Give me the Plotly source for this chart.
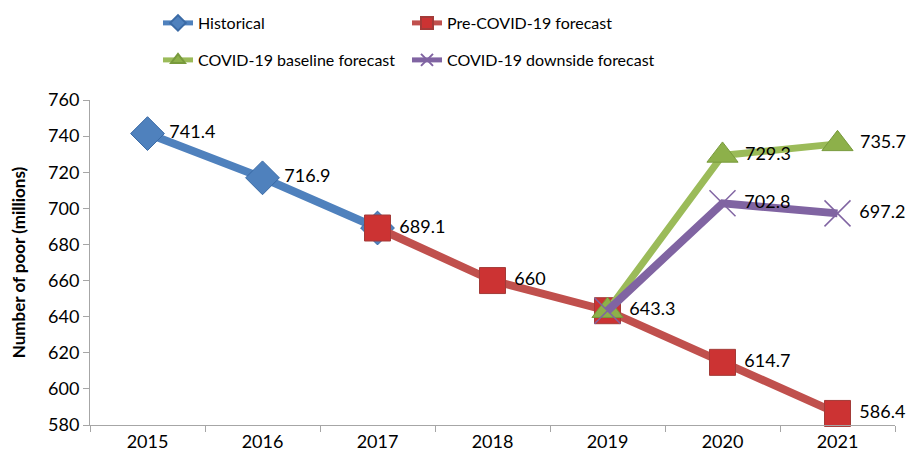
import plotly.graph_objects as go

years = ["2015", "2016", "2017", "2018", "2019", "2020", "2021"]
historical = [741.4, 716.9, 689.1, None, None, None, None]
pre_covid = [None, None, 689.1, 660, 643.3, 614.7, 586.4]
baseline = [None, None, None, None, 643.3, 729.3, 735.7]
downside = [None, None, None, None, 643.3, 702.8, 697.2]

hist_labels = ["741.4", "716.9", "", "", "", "", ""]
pre_labels = ["", "", "689.1", "660", "643.3", "614.7", "586.4"]
base_labels = ["", "", "", "", "", "729.3", "735.7"]
down_labels = ["", "", "", "", "", "702.8", "697.2"]

FONT = "Lato"
lab_font = dict(family=FONT, size=18, color="#000000")

# page body has an 8px margin; figure offset accordingly
W, H = 901, 445


def pad(labels):
    return [" " + t if t else "" for t in labels]


fig = go.Figure()
fig.add_trace(go.Scatter(
    x=years, y=historical, name="Historical", mode="lines+markers+text",
    text=pad(hist_labels), textposition="middle right", textfont=lab_font,
    line=dict(color="#4F81BD", width=8), cliponaxis=False,
    marker=dict(symbol="diamond", size=26, color="#4F81BD", line=dict(color="#3A6AA5", width=1)),
    legend="legend"))
fig.add_trace(go.Scatter(
    x=years, y=pre_covid, name="Pre-COVID-19 forecast", mode="lines+markers+text",
    text=pad(pre_labels), textposition="middle right", textfont=lab_font,
    line=dict(color="#C0504D", width=8), cliponaxis=False,
    marker=dict(symbol="square", size=26, color="#CC3333", line=dict(color="#A33B38", width=1)),
    legend="legend"))
fig.add_trace(go.Scatter(
    x=years, y=baseline, name="COVID-19 baseline forecast", mode="lines+markers+text",
    text=pad(base_labels), textposition="middle right", textfont=lab_font,
    line=dict(color="#9BBB59", width=7), cliponaxis=False,
    marker=dict(symbol="triangle-up", size=27, color="#8DB04A", line=dict(color="#789A3C", width=1)),
    legend="legend2"))
fig.add_trace(go.Scatter(
    x=years, y=downside, name="COVID-19 downside forecast", mode="lines+markers+text",
    text=pad(down_labels), textposition="middle right", textfont=lab_font,
    line=dict(color="#8064A2", width=8), cliponaxis=False,
    marker=dict(symbol="x-thin", size=26, color="#8064A2", line=dict(color="#8064A2", width=1.5)),
    legend="legend2"))

leg_common = dict(orientation="h", xanchor="left", yanchor="middle",
                  xref="container", yref="container",
                  font=dict(family=FONT, size=16, color="#000000"),
                  entrywidth=204, entrywidthmode="pixels",
                  itemsizing="constant", bgcolor="rgba(0,0,0,0)")

fig.update_layout(
    width=W, height=H,
    margin=dict(l=82, r=W - 887, t=92, b=H - 417, autoexpand=False),
    plot_bgcolor="white", paper_bgcolor="white",
    font=dict(family=FONT, size=18, color="#000000"),
    showlegend=True,
    legend=dict(x=150 / W, y=1 - 15 / H, **leg_common),
    legend2=dict(x=150 / W, y=1 - 52 / H, **leg_common),
    xaxis=dict(
        type="category", range=[-0.5, 6.5], showgrid=False, automargin=False,
        showline=True, linecolor="#A6A6A6", linewidth=1,
        ticks="outside", tickson="boundaries", ticklen=6, tickcolor="#A6A6A6",
        tickfont=dict(family=FONT, size=18, color="#000000"),
    ),
    yaxis=dict(
        range=[580, 760], dtick=20, showgrid=False, zeroline=False, automargin=False,
        showline=True, linecolor="#A6A6A6", linewidth=1,
        ticks="outside", ticklen=6, tickcolor="#A6A6A6",
        tickfont=dict(family=FONT, size=18, color="#000000"),
        title=dict(text="<b>Number of poor (millions)</b>", standoff=18,
                   font=dict(family=FONT, size=17, color="#000000")),
    ),
)

fig.write_html("out.html")
